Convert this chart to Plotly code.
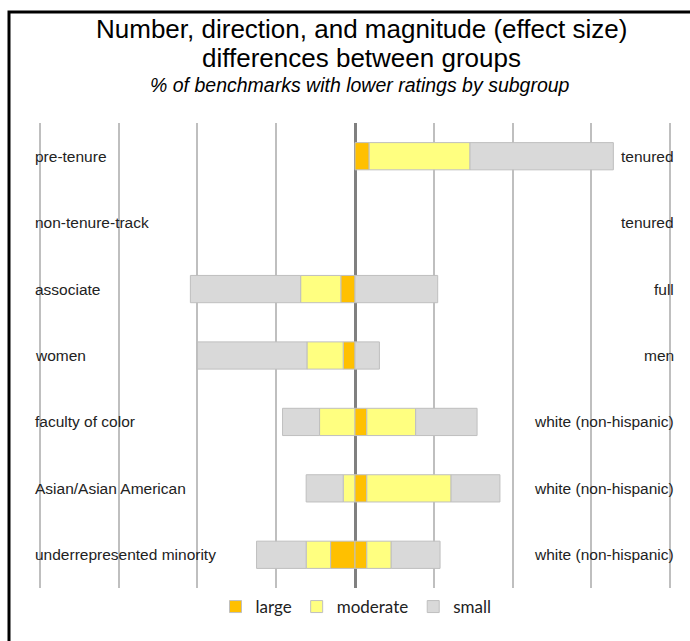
"""
Diverging stacked bar chart: effect size differences between faculty groups.
"""

import plotly.graph_objects as go

# rows, top to bottom
groups = ["pre-tenure", "non-tenure-track", "associate", "women",
          "faculty of color", "Asian/Asian American", "underrepresented minority"]
comparison = ["tenured", "tenured", "full", "men",
              "white (non-hispanic)", "white (non-hispanic)", "white (non-hispanic)"]

# % of benchmarks, left side = lower ratings for the subgroup on the left
left_large = [None, None, 1.8, 1.5, None, None, 3.1]
left_moderate = [None, None, 5.1, 4.6, 4.5, 1.5, 3.1]
left_small = [None, None, 14.0, 13.9, 4.7, 4.7, 6.3]

# right side = lower ratings for the comparison group
right_large = [1.8, None, None, None, 1.5, 1.5, 1.5]
right_moderate = [12.8, None, None, None, 6.2, 10.7, 3.1]
right_small = [18.2, None, 10.5, 3.1, 7.8, 6.2, 6.2]

colors = {"large": "#FFC000", "moderate": "#FFFF80", "small": "#D9D9D9"}

W, H = 690, 641
L, R, T, B = 36, 16, 123, 53
pw, ph = W - L - R, H - T - B


def px_x(x):
    return (x - L) / pw


def px_y(y):
    return (H - B - y) / ph


fig = go.Figure()

left = {"large": left_large, "moderate": left_moderate, "small": left_small}
right = {"large": right_large, "moderate": right_moderate, "small": right_small}

for name, vals in left.items():
    fig.add_trace(go.Bar(
        y=groups,
        x=[-v if v is not None else None for v in vals],
        orientation="h",
        name=name,
        legendgroup=name,
        showlegend=False,
        marker=dict(color=colors[name], line=dict(color="#BFBFBF", width=1)),
        hoverinfo="skip",
    ))

for name, vals in right.items():
    fig.add_trace(go.Bar(
        y=groups,
        x=vals,
        orientation="h",
        name=name,
        legendgroup=name,
        marker=dict(color=colors[name], line=dict(color="#BFBFBF", width=1)),
        hoverinfo="skip",
    ))

label_font = dict(family="Liberation Sans, Arial, sans-serif", size=15.5, color="#222222")

for g, c in zip(groups, comparison):
    fig.add_annotation(x=0, y=g, xref="paper", yref="y", text=g, showarrow=False,
                       xanchor="left", xshift=-3, font=label_font)
    fig.add_annotation(x=1, y=g, xref="paper", yref="y", text=c, showarrow=False,
                       xanchor="right", xshift=2, font=label_font)

# title block
title_font = dict(family="Liberation Sans, Arial, sans-serif", size=26, color="#000000")
fig.add_annotation(x=px_x(361), y=px_y(29), xref="paper", yref="paper",
                   text="Number, direction, and magnitude (effect size)",
                   showarrow=False, font=title_font, yanchor="middle", borderpad=0)
fig.add_annotation(x=px_x(361), y=px_y(58), xref="paper", yref="paper",
                   text="differences between groups",
                   showarrow=False, font=title_font, yanchor="middle", borderpad=0)
fig.add_annotation(x=px_x(360), y=px_y(85), xref="paper", yref="paper",
                   text="<i>% of benchmarks with lower ratings by subgroup</i>",
                   showarrow=False, yanchor="middle", borderpad=0,
                   font=dict(family="Liberation Sans, Arial, sans-serif", size=19.5, color="#000000"))

# frame: left and top edges only
fig.add_shape(type="path", xref="paper", yref="paper",
              path=f"M {px_x(9)},{px_y(660)} L {px_x(9)},{px_y(12)} L {px_x(700)},{px_y(12)}",
              line=dict(color="#000000", width=3), layer="above")

fig.update_layout(
    width=W,
    height=H,
    barmode="relative",
    bargap=0.59,
    plot_bgcolor="white",
    paper_bgcolor="white",
    margin=dict(l=L, r=R, t=T, b=B),
    showlegend=True,
    legend=dict(
        orientation="h",
        x=px_x(356), y=px_y(607),
        xanchor="center", yanchor="middle",
        font=dict(family="Lato, sans-serif", size=17, color="#222222"),
        traceorder="normal",
        itemwidth=30,
    ),
    xaxis=dict(
        range=[-40.5, 40.5],
        dtick=10,
        tick0=0,
        showgrid=True,
        gridcolor="#BFBFBF",
        gridwidth=1.5,
        zeroline=True,
        zerolinecolor="#808080",
        zerolinewidth=2.5,
        showticklabels=False,
        showline=False,
        fixedrange=True,
    ),
    yaxis=dict(
        categoryorder="array",
        categoryarray=groups,
        range=[6.5, -0.5],
        showticklabels=False,
        showgrid=False,
        zeroline=False,
        showline=False,
    ),
)

fig.write_html("out.html", config={"displayModeBar": False},
               post_script="document.body.style.margin = '0';")
